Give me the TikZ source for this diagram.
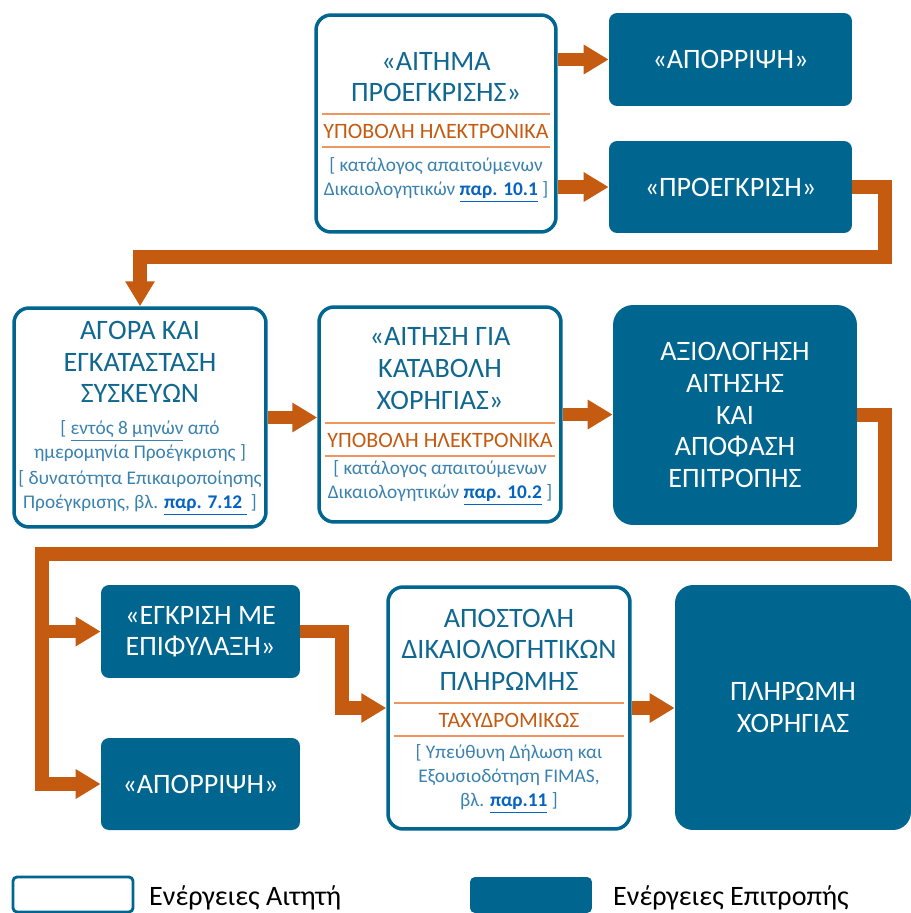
\documentclass[tikz,border=0pt]{standalone}
\usepackage{fontspec}
\setmainfont{Carlito}
\usepackage{tikz}
\usetikzlibrary{arrows.meta, positioning, calc}

\definecolor{boxblue}{RGB}{0,102,143}
\definecolor{headblue}{RGB}{16,104,145}
\definecolor{noteblue}{RGB}{58,130,176}
\definecolor{linkblue}{RGB}{5,99,193}
\definecolor{flowor}{RGB}{197,90,17}
\definecolor{lineor}{RGB}{238,150,95}

\newcommand{\headfont}{\fontsize{16}{18}\selectfont}
\newcommand{\subfont}{\fontsize{12.5}{14}\selectfont}
\newcommand{\notefont}{\fontsize{11}{13.7}\selectfont}
\newcommand{\lnk}[1]{{\color{linkblue}\underline{\textbf{#1}}}}

\tikzset{
  askbox/.style={draw=boxblue, line width=2pt, fill=white, rounded corners=0.3cm, inner sep=0pt},
  comitbox/.style={fill=boxblue, rounded corners=0.16cm, text=white, align=center, font=\headfont},
  head/.style={text=headblue, align=center, font=\headfont, inner sep=0pt},
  sub/.style={text=flowor, font=\subfont, inner sep=0pt},
  note/.style={text=noteblue, align=center, font=\notefont, inner sep=0pt},
  sepline/.style={draw=lineor, line width=0.9pt},
  flow/.style={draw=flowor, line width=0.27cm, -{Triangle[width=0.56cm,length=0.5cm]}},
}

\begin{document}
\begin{tikzpicture}[x=0.02cm, y=-0.02cm]

	\path[use as bounding box, clip] (0,0) rectangle (911,913);

	% applicant steps
	\node[askbox, minimum width=4.8cm, minimum height=4.34cm] (req) at (436,123.5) {};
	\node[head] (reqh) at (436,77) {«ΑΙΤΗΜΑ\\ΠΡΟΕΓΚΡΙΣΗΣ»};
	\draw[sepline] (322,114) -- (550,114);
	\node[sub] (reqs) at (436,131) {ΥΠΟΒΟΛΗ ΗΛΕΚΤΡΟΝΙΚΑ};
	\draw[sepline] (322,147) -- (550,147);
	\node[note] (reqn) at (436,180) {[ κατάλογος απαιτούμενων\\Δικαιολογητικών \lnk{παρ. 10.1} ]};

	\node[askbox, minimum width=5.04cm, minimum height=4.38cm] (buy) at (140,417.5) {};
	\node[head] (buyh) at (140,362) {ΑΓΟΡΑ ΚΑΙ\\ΕΓΚΑΤΑΣΤΑΣΗ\\ΣΥΣΚΕΥΩΝ};
	\node[note] (buyn) at (140,441) {[ \underline{εντός 8 μηνών} από\\ημερομηνία Προέγκρισης ]};
	\node[note] (buym) at (140,493) {[ δυνατότητα Επικαιροποίησης\\Προέγκρισης, βλ. \lnk{παρ. 7.12\ } ]};

	\node[askbox, minimum width=4.84cm, minimum height=4.3cm] (claim) at (440,414.5) {};
	\node[head] (claimh) at (440,368.5) {«ΑΙΤΗΣΗ ΓΙΑ\\ΚΑΤΑΒΟΛΗ\\ΧΟΡΗΓΙΑΣ»};
	\draw[sepline] (325,423) -- (555,423);
	\node[sub] (claims) at (440,440) {ΥΠΟΒΟΛΗ ΗΛΕΚΤΡΟΝΙΚΑ};
	\draw[sepline] (325,456) -- (555,456);
	\node[note] (claimn) at (440,483) {[ κατάλογος απαιτούμενων\\Δικαιολογητικών \lnk{παρ. 10.2} ]};

	\node[askbox, minimum width=4.84cm, minimum height=4.84cm] (send) at (509,708) {};
	\node[head] (sendh) at (509,649.5) {ΑΠΟΣΤΟΛΗ\\ΔΙΚΑΙΟΛΟΓΗΤΙΚΩΝ\\ΠΛΗΡΩΜΗΣ};
	\draw[sepline] (394,703) -- (624,703);
	\node[sub] (sends) at (509,720) {ΤΑΧΥΔΡΟΜΙΚΩΣ};
	\draw[sepline] (394,736) -- (624,736);
	\node[note] (sendn) at (509,779) {[ Υπεύθυνη Δήλωση και\\Εξουσιοδότηση FIMAS,\\βλ. \lnk{παρ.11} ]};

	% committee steps
	\node[comitbox, minimum width=4.86cm, minimum height=1.86cm] (rej1) at (730.5,59.5) {«ΑΠΟΡΡΙΨΗ»};
	\node[comitbox, minimum width=4.86cm, minimum height=1.84cm] (pre) at (730.5,187) {«ΠΡΟΕΓΚΡΙΣΗ»};
	\node[comitbox, rounded corners=0.4cm, minimum width=4.88cm, minimum height=4.4cm] (eval) at (735,415) {ΑΞΙΟΛΟΓΗΣΗ\\ΑΙΤΗΣΗΣ\\ΚΑΙ\\ΑΠΟΦΑΣΗ\\ΕΠΙΤΡΟΠΗΣ};
	\node[comitbox, minimum width=3.98cm, minimum height=1.86cm] (cond) at (200.5,631.5) {«ΕΓΚΡΙΣΗ ΜΕ\\ΕΠΙΦΥΛΑΞΗ»};
	\node[comitbox, minimum width=3.98cm, minimum height=1.84cm] (rej2) at (200.5,784) {«ΑΠΟΡΡΙΨΗ»};
	\node[comitbox, rounded corners=0.36cm, minimum width=4.72cm, minimum height=4.9cm] (pay) at (793,707.5) {ΠΛΗΡΩΜΗ\\ΧΟΡΗΓΙΑΣ};

	% flow
	\coordinate (c1) at (885,257);
	\coordinate (c2) at (885,554);
	\coordinate (c3) at (42,554);
	\coordinate (c4) at (342,708);

	\draw[flow] (req.east |- rej1.west) -- (rej1.west);
	\draw[flow] (req.east |- pre.west) -- (pre.west);
	\draw[flow] (pre.east) -| (c1) -| (buy.north);
	\draw[flow] (buy.east) -- (buy.east -| claim.west);
	\draw[flow] (claim.east) -- (claim.east -| eval.west);
	\draw[flow] (eval.east) -| (c2) -- (c3) |- (rej2.west);
	\draw[flow] (c3) |- (cond.west);
	\draw[flow] (cond.east) -| (c4) -- (send.west);
	\draw[flow] (send.east) -- (send.east -| pay.west);

	% legend
	\node[askbox, line width=1.6pt, rounded corners=0.08cm, minimum width=2.4cm, minimum height=0.7cm] (legask) at (73,894.5) {};
	\node[anchor=base west, font=\headfont] (legaskt) at (143,905) {Ενέργειες Αιτητή};
	\node[comitbox, rounded corners=0.1cm, minimum width=2.44cm, minimum height=0.72cm] (legcom) at (531,895) {};
	\node[anchor=base west, font=\headfont] (legcomt) at (607,905) {Ενέργειες Επιτροπής};

\end{tikzpicture}
\end{document}
